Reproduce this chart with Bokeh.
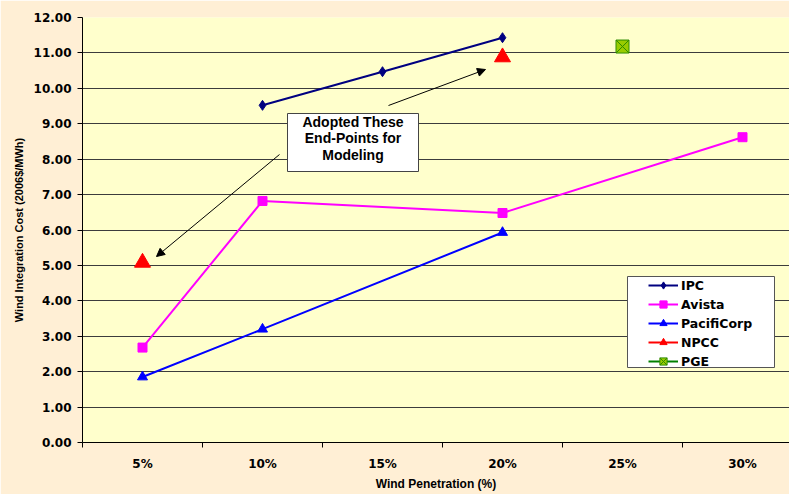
import numpy as np
from bokeh.plotting import figure
from bokeh.models import (Range1d, FixedTicker, PrintfTickFormatter, Legend, LegendItem,
                          BoxAnnotation, Arrow, NormalHead, Label)
from bokeh.embed import file_html
from bokeh.resources import INLINE

# ---------------- data ----------------
categories = ["5%", "10%", "15%", "20%", "25%", "30%"]
y_ticks = [0, 1, 2, 3, 4, 5, 6, 7, 8, 9, 10, 11, 12]

ipc_x = ["10%", "15%", "20%"]
ipc_y = [9.52, 10.47, 11.43]

avista_x = ["5%", "10%", "20%", "30%"]
avista_y = [2.68, 6.82, 6.48, 8.62]

pacificorp_x = ["5%", "10%", "20%"]
pacificorp_y = [1.85, 3.20, 5.93]

npcc_x = ["5%", "20%"]
npcc_y = [5.08, 10.88]

pge_x = ["25%"]
pge_y = [11.18]

note_lines = ["Adopted These", "End-Points for", "Modeling"]

# ---------------- layout ----------------
W, H = 789, 494
LEFT, TOP, BOTTOM = 82, 17, 52
CAT_W = 120
frame_w = W - LEFT
frame_h = H - TOP - BOTTOM
X_START = 0.5
X_END = X_START + frame_w / CAT_W
Y_MAX = 12.0


def pos(cats):
    return [categories.index(c) + 1 for c in cats]


def xd(px):
    return X_START + (px - LEFT) / CAT_W


def yd(py):
    return (TOP + frame_h - py) / frame_h * Y_MAX


TICK_FONT = "DejaVu Sans"
TEXT_FONT = "Liberation Sans"

p = figure(width=W, height=H, output_backend="svg", toolbar_location=None,
           x_range=Range1d(X_START, X_END), y_range=Range1d(0, Y_MAX),
           min_border_left=LEFT, min_border_right=0, min_border_top=TOP,
           min_border_bottom=BOTTOM, title=None)

p.background_fill_color = "#FFFFCC"
p.border_fill_color = "#FFEFD5"
p.outline_line_color = None

# x axis
p.xaxis.ticker = FixedTicker(ticks=list(range(1, len(categories) + 1)),
                             minor_ticks=[i + 0.5 for i in range(len(categories) + 1)])
p.xaxis.major_label_overrides = {i + 1: c for i, c in enumerate(categories)}
p.xaxis.major_tick_out = 0
p.xaxis.major_tick_in = 0
p.xaxis.minor_tick_out = 5
p.xaxis.minor_tick_in = 0
p.xaxis.minor_tick_line_color = "black"
p.xaxis.axis_line_color = "black"
p.xaxis.major_label_text_font = TICK_FONT
p.xaxis.major_label_text_font_size = "12px"
p.xaxis.major_label_text_font_style = "bold"
p.xaxis.major_label_text_color = "black"
p.xaxis.major_label_standoff = 9
p.xaxis.axis_label = "Wind Penetration (%)"
p.xaxis.axis_label_text_font = TEXT_FONT
p.xaxis.axis_label_text_font_size = "12px"
p.xaxis.axis_label_text_font_style = "bold"
p.xaxis.axis_label_text_color = "black"
p.xaxis.axis_label_standoff = 3

# y axis
p.yaxis.ticker = FixedTicker(ticks=y_ticks, minor_ticks=[])
p.yaxis.formatter = PrintfTickFormatter(format="%.2f")
p.yaxis.major_tick_out = 5
p.yaxis.major_tick_in = 0
p.yaxis.minor_tick_line_color = None
p.yaxis.axis_line_color = "black"
p.yaxis.major_tick_line_color = "black"
p.yaxis.major_label_text_font = TICK_FONT
p.yaxis.major_label_text_font_size = "12px"
p.yaxis.major_label_text_font_style = "bold"
p.yaxis.major_label_text_color = "black"
p.yaxis.major_label_standoff = 6
p.yaxis.axis_label = "Wind Integration Cost (2006$/MWh)"
p.yaxis.axis_label_text_font = TEXT_FONT
p.yaxis.axis_label_text_font_size = "11px"
p.yaxis.axis_label_text_font_style = "bold"
p.yaxis.axis_label_text_color = "black"
p.yaxis.axis_label_standoff = 6

p.xgrid.visible = False
p.ygrid.ticker = FixedTicker(ticks=y_ticks)
p.ygrid.grid_line_color = "#3c3c3c"
p.ygrid.grid_line_width = 1

# ---------------- series ----------------
items = []
nan_pair = [np.nan, np.nan]

l = p.line(pos(ipc_x), ipc_y, line_color="#000080", line_width=2)
s = p.scatter(pos(ipc_x), ipc_y, marker="diamond", size=10, fill_color="#000080",
              line_color="#000080")
items.append(LegendItem(label="IPC", renderers=[l, s]))

l = p.line(pos(avista_x), avista_y, line_color="#FF00FF", line_width=2)
s = p.scatter(pos(avista_x), avista_y, marker="square", size=9, fill_color="#FF00FF",
              line_color="#FF00FF")
items.append(LegendItem(label="Avista", renderers=[l, s]))

l = p.line(pos(pacificorp_x), pacificorp_y, line_color="#0000FF", line_width=2)
s = p.scatter(pos(pacificorp_x), pacificorp_y, marker="triangle", size=10,
              fill_color="#0000FF", line_color="#0000FF")
items.append(LegendItem(label="PacifiCorp", renderers=[l, s]))

l = p.line(nan_pair, nan_pair, line_color="#FF0000", line_width=2)
s = p.scatter(pos(npcc_x), npcc_y, marker="triangle", size=16, fill_color="#FF0000",
              line_color="#FF0000")
items.append(LegendItem(label="NPCC", renderers=[l, s]))

l = p.line(nan_pair, nan_pair, line_color="#008000", line_width=2)
s = p.scatter(pos(pge_x), pge_y, marker="square_x", size=13, fill_color="#99CC00",
              line_color="#2E8B00", line_width=1)
items.append(LegendItem(label="PGE", renderers=[l, s]))

# ---------------- legend ----------------
leg_box = BoxAnnotation(left=xd(627), right=xd(774), top=yd(276), bottom=yd(367),
                        fill_color="white", fill_alpha=1.0,
                        line_color="#555555", line_width=1, line_alpha=1.0)
p.add_layout(leg_box)

legend = Legend(items=items, location=(648 - LEFT, (TOP + frame_h) - (276 + 94)),
                margin=0, padding=0, spacing=1,
                glyph_width=30, glyph_height=18, label_height=18, label_standoff=3,
                border_line_color=None, background_fill_alpha=0,
                label_text_font=TICK_FONT, label_text_font_size="12.5px",
                label_text_font_style="bold", label_text_color="black")
p.add_layout(legend)

# ---------------- note ----------------
note_box = BoxAnnotation(left=xd(287), right=xd(418), top=yd(113), bottom=yd(171),
                         fill_color="white", fill_alpha=1.0,
                         line_color="#444444", line_width=1, line_alpha=1.0)
p.add_layout(note_box)
for i, t in enumerate(note_lines):
    p.add_layout(Label(x=xd(352.5), y=yd(121 + 16.5 * i), text=t,
                       text_align="center", text_baseline="middle",
                       text_font=TEXT_FONT, text_font_size="14px",
                       text_font_style="bold", text_color="black"))

p.add_layout(Arrow(end=NormalHead(size=8, fill_color="black", line_color="black"),
                   x_start=xd(388), y_start=yd(105), x_end=xd(485), y_end=yd(69),
                   line_color="black", line_width=1))
p.add_layout(Arrow(end=NormalHead(size=8, fill_color="black", line_color="black"),
                   x_start=xd(279), y_start=yd(154), x_end=xd(156), y_end=yd(256),
                   line_color="black", line_width=1))

open("out.html", "w").write(file_html(p, INLINE))
